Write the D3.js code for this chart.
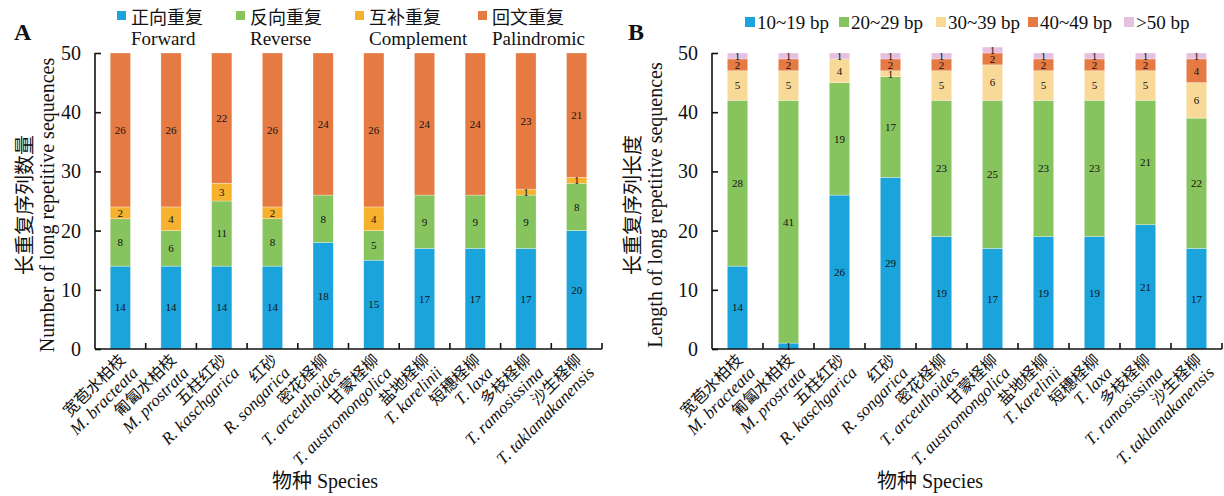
<!DOCTYPE html>
<html>
<head>
<meta charset="utf-8">
<script src="https://cdn.jsdelivr.net/npm/d3@7"></script>
<style>
  body { margin: 0; background: #fff; }
  svg text { font-family: "Liberation Serif", "Times New Roman", "Noto Sans CJK SC", serif; fill: #111; }
</style>
</head>
<body>
<svg id="chart" width="1224" height="496"></svg>
<script>
// Species (Chinese name + Latin name)
const speciesCn = ["宽苞水柏枝", "匍匐水柏枝", "五柱红砂", "红砂", "密花柽柳", "甘蒙柽柳", "盐地柽柳", "短穗柽柳", "多枝柽柳", "沙生柽柳"];
const speciesLatin = ["M. bracteata", "M. prostrata", "R. kaschgarica", "R. songarica", "T. arceuthoides", "T. austromongolica", "T. karelinii", "T. laxa", "T. ramosissima", "T. taklamakanensis"];

// Panel A: number of long repeats by type
const repeatTypesCn = ["正向重复", "反向重复", "互补重复", "回文重复"];
const repeatTypesEn = ["Forward", "Reverse", "Complement", "Palindromic"];
const forward     = [14, 14, 14, 14, 18, 15, 17, 17, 17, 20];
const reverse     = [8, 6, 11, 8, 8, 5, 9, 9, 9, 8];
const complement  = [2, 4, 3, 2, 0, 4, 0, 0, 1, 1];
const palindromic = [26, 26, 22, 26, 24, 26, 24, 24, 23, 21];

// Panel B: long repeats by length class
const lengthClasses = ["10~19 bp", "20~29 bp", "30~39 bp", "40~49 bp", ">50 bp"];
const len10to19 = [14, 1, 26, 29, 19, 17, 19, 19, 21, 17];
const len20to29 = [28, 41, 19, 17, 23, 25, 23, 23, 21, 22];
const len30to39 = [5, 5, 4, 1, 5, 6, 5, 5, 5, 6];
const len40to49 = [2, 2, 0, 2, 2, 2, 2, 2, 2, 4];
const len50plus = [1, 1, 1, 1, 1, 1, 1, 1, 1, 1];

const yTicks = [0, 10, 20, 30, 40, 50];

const colorsA = ["#1ba3dc", "#88c45e", "#f6b12e", "#e67a43"];
const colorsB = ["#1ba3dc", "#88c45e", "#f8d997", "#e67a43", "#e6c0df"];

const svg = d3.select("#chart");

function drawPanel(opts) {
  const { left, right, top, bottom, series, keys, colors } = opts;
  const g = svg.append("g");

  const rows = speciesLatin.map((s, i) => {
    const r = { species: s };
    keys.forEach((k, j) => r[k] = series[j][i]);
    return r;
  });
  const stacked = d3.stack().keys(keys)(rows);

  const x = d3.scaleBand().domain(speciesLatin).range([left, right]).paddingInner(0.6).paddingOuter(0.3);
  const y = d3.scaleLinear().domain([0, 50]).range([bottom, top]);

  // stacked bars
  const layer = g.selectAll("g.layer").data(stacked).join("g")
    .attr("fill", (d, i) => colors[i]);
  layer.selectAll("rect").data(d => d.filter(p => p[1] - p[0] > 0)).join("rect")
    .attr("x", d => x(d.data.species))
    .attr("width", x.bandwidth())
    .attr("y", d => y(d[1]))
    .attr("height", d => y(d[0]) - y(d[1]))
    .attr("stroke", "#fff")
    .attr("stroke-opacity", 0.5)
    .attr("stroke-width", 0.6);

  // value labels
  stacked.forEach(s => {
    g.selectAll(null).data(s.filter(p => p[1] - p[0] > 0)).join("text")
      .attr("x", d => x(d.data.species) + x.bandwidth() / 2)
      .attr("y", d => y((d[0] + d[1]) / 2))
      .attr("dy", "0.35em")
      .attr("text-anchor", "middle")
      .style("font-size", "11px")
      .text(d => d[1] - d[0]);
  });

  // y axis with inward ticks
  const yAxis = d3.axisLeft(y).tickValues(yTicks).tickSize(-6).tickPadding(14);
  const ya = g.append("g").attr("transform", `translate(${left},0)`).call(yAxis);
  ya.select(".domain").attr("d", `M0,${top}V${bottom}`).attr("stroke", "#111").attr("stroke-width", 1.6);
  ya.selectAll(".tick line").attr("stroke", "#111").attr("stroke-width", 1.6);
  ya.selectAll(".tick text").style("font-size", "20px").attr("fill", "#111");

  // x axis line with ticks at band boundaries (pointing up)
  const step = x.step();
  const bounds = d3.range(speciesLatin.length + 1).map(i => x(speciesLatin[0]) - x.paddingOuter() * step + i * step);
  g.append("path")
    .attr("d", `M${left},${bottom}H${right}`)
    .attr("stroke", "#111").attr("stroke-width", 1.6).attr("fill", "none");
  g.selectAll(null).data(bounds.slice(1)).join("line")
    .attr("x1", d => d).attr("x2", d => d)
    .attr("y1", bottom).attr("y2", bottom - 6)
    .attr("stroke", "#111").attr("stroke-width", 1.6);

  // rotated two-line category labels
  const lab = g.selectAll("g.xlab").data(speciesLatin).join("g")
    .attr("transform", d => `translate(${x(d) + x.bandwidth() / 2 + 6},${bottom + 12}) rotate(-45)`);
  lab.append("text")
    .attr("text-anchor", "end")
    .style("font-size", "16px")
    .text((d, i) => speciesCn[i]);
  lab.append("text")
    .attr("text-anchor", "end")
    .attr("dy", "1.05em")
    .style("font-size", "17px")
    .style("font-style", "italic")
    .text(d => d);

  return { x, y };
}

// ---- Panel A ----
drawPanel({
  left: 95, right: 602, top: 53, bottom: 349,
  series: [forward, reverse, complement, palindromic],
  keys: repeatTypesEn, colors: colorsA
});

// ---- Panel B ----
drawPanel({
  left: 712, right: 1222, top: 53, bottom: 349,
  series: [len10to19, len20to29, len30to39, len40to49, len50plus],
  keys: lengthClasses, colors: colorsB
});

// panel letters
svg.append("text").attr("x", 14).attr("y", 40).style("font-size", "24px").style("font-weight", "bold").text("A");
svg.append("text").attr("x", 628).attr("y", 40).style("font-size", "24px").style("font-weight", "bold").text("B");

// legend A (two-line entries)
const legendAX = [117, 236, 355, 478];
repeatTypesCn.forEach((t, i) => {
  svg.append("rect").attr("x", legendAX[i]).attr("y", 11).attr("width", 9).attr("height", 9).attr("fill", colorsA[i]);
  svg.append("text").attr("x", legendAX[i] + 14).attr("y", 24).style("font-size", "18px").text(t);
  svg.append("text").attr("x", legendAX[i] + 14).attr("y", 45).style("font-size", "19px").text(repeatTypesEn[i]);
});

// legend B (single row)
const legendBX = [745, 839, 936, 1028, 1124];
lengthClasses.forEach((t, i) => {
  svg.append("rect").attr("x", legendBX[i]).attr("y", 17).attr("width", 10).attr("height", 10).attr("fill", colorsB[i]);
  svg.append("text").attr("x", legendBX[i] + 12).attr("y", 29).style("font-size", "19px").text(t);
});

// axis titles
function yTitle(cx, cy, cn, en) {
  const g = svg.append("g").attr("transform", `translate(${cx},${cy}) rotate(-90)`);
  g.append("text").attr("text-anchor", "middle").attr("y", 0).style("font-size", "20px").text(cn);
  g.append("text").attr("text-anchor", "middle").attr("y", 22).style("font-size", "20px").text(en);
}
yTitle(32, 205, "长重复序列数量", "Number of long repetitive sequences");
yTitle(640, 205, "长重复序列长度", "Length of long repetitive sequences");

svg.append("text").attr("x", 325).attr("y", 488).attr("text-anchor", "middle").style("font-size", "20px").text("物种 Species");
svg.append("text").attr("x", 930).attr("y", 488).attr("text-anchor", "middle").style("font-size", "20px").text("物种 Species");
</script>
</body>
</html>
